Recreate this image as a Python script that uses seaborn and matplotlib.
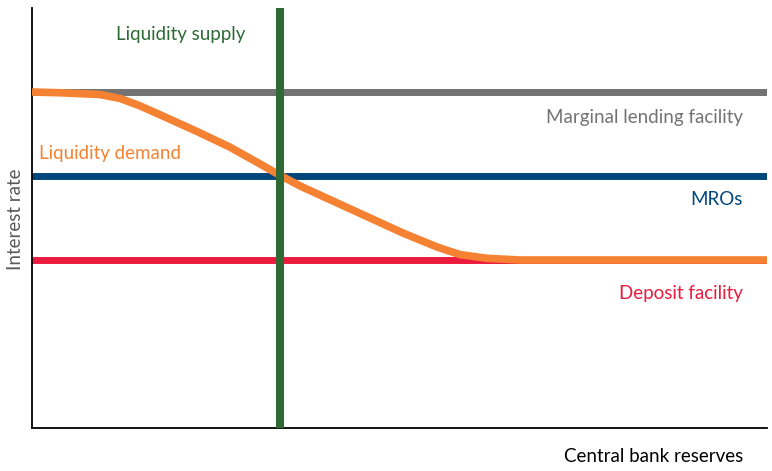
import numpy as np
import pandas as pd
import matplotlib
matplotlib.use("Agg")
import matplotlib.pyplot as plt
import seaborn as sns

# policy corridor rates (arbitrary units)
marginal_lending = 80
mro_rate = 60
deposit_rate = 40
supply_level = 33.7

# liquidity demand curve
demand_x = [0, 4.2, 9.25, 12.0, 14.7, 18.1, 22.45, 26.9, 31.0, 33.7, 36.5,
            41.5, 46.0, 50.5, 55.1, 58.2, 61.9, 66.4, 100]
demand_y = [80, 79.8, 79.4, 78.45, 76.7, 74.05, 70.6, 66.9, 62.9, 60.2, 57.6,
            53.6, 50.0, 46.4, 43.1, 41.3, 40.4, 40, 40]

sns.set_style("white")
plt.rcParams['font.family'] = ['Lato', 'DejaVu Sans']

fig = plt.figure(figsize=(7.72, 4.71), dpi=100)
ax = fig.add_axes([32 / 772, 43 / 471, 735 / 772, 420 / 471])

grey = '#737373'
navy = '#02477c'
red = '#ec1a3d'
orange = '#f58232'
green = '#2f6a35'

ax.axhline(marginal_lending, color=grey, lw=5, zorder=2)
ax.axhline(mro_rate, color=navy, lw=5, zorder=2)
ax.axhline(deposit_rate, color=red, lw=5, zorder=2)

df = pd.DataFrame({'reserves': demand_x, 'rate': demand_y})
sns.lineplot(data=df, x='reserves', y='rate', color=orange, lw=5.5, ax=ax, zorder=3,
             solid_joinstyle='round', solid_capstyle='butt')

ax.axvline(supply_level, color=green, lw=5.8, zorder=4)

ax.set_xlim(0, 100)
ax.set_ylim(0, 100)
ax.set_xticks([])
ax.set_yticks([])
ax.set_xlabel('')
ax.set_ylabel('')
sns.despine(ax=ax)
for s in ['left', 'bottom']:
    ax.spines[s].set_color('black')
    ax.spines[s].set_linewidth(1.3)

fs = 13.5
ax.text(20.2, 93.6, 'Liquidity supply', color=green, fontsize=fs, ha='center', va='center')
ax.text(96.7, 74, 'Marginal lending facility', color=grey, fontsize=fs, ha='right', va='center')
ax.text(1.0, 65.4, 'Liquidity demand', color=orange, fontsize=fs, ha='left', va='center')
ax.text(96.7, 54.3, 'MROs', color=navy, fontsize=fs, ha='right', va='center')
ax.text(96.7, 32, 'Deposit facility', color=red, fontsize=fs, ha='right', va='center')

fig.text(743 / 772, 1 - 456 / 471, 'Central bank reserves', color='black', fontsize=fs, ha='right', va='center')
fig.text(16 / 772, 1 - 219 / 471, 'Interest rate', color='#595959', fontsize=fs, ha='center', va='center', rotation=90)

fig.savefig('out.png', dpi=100)
